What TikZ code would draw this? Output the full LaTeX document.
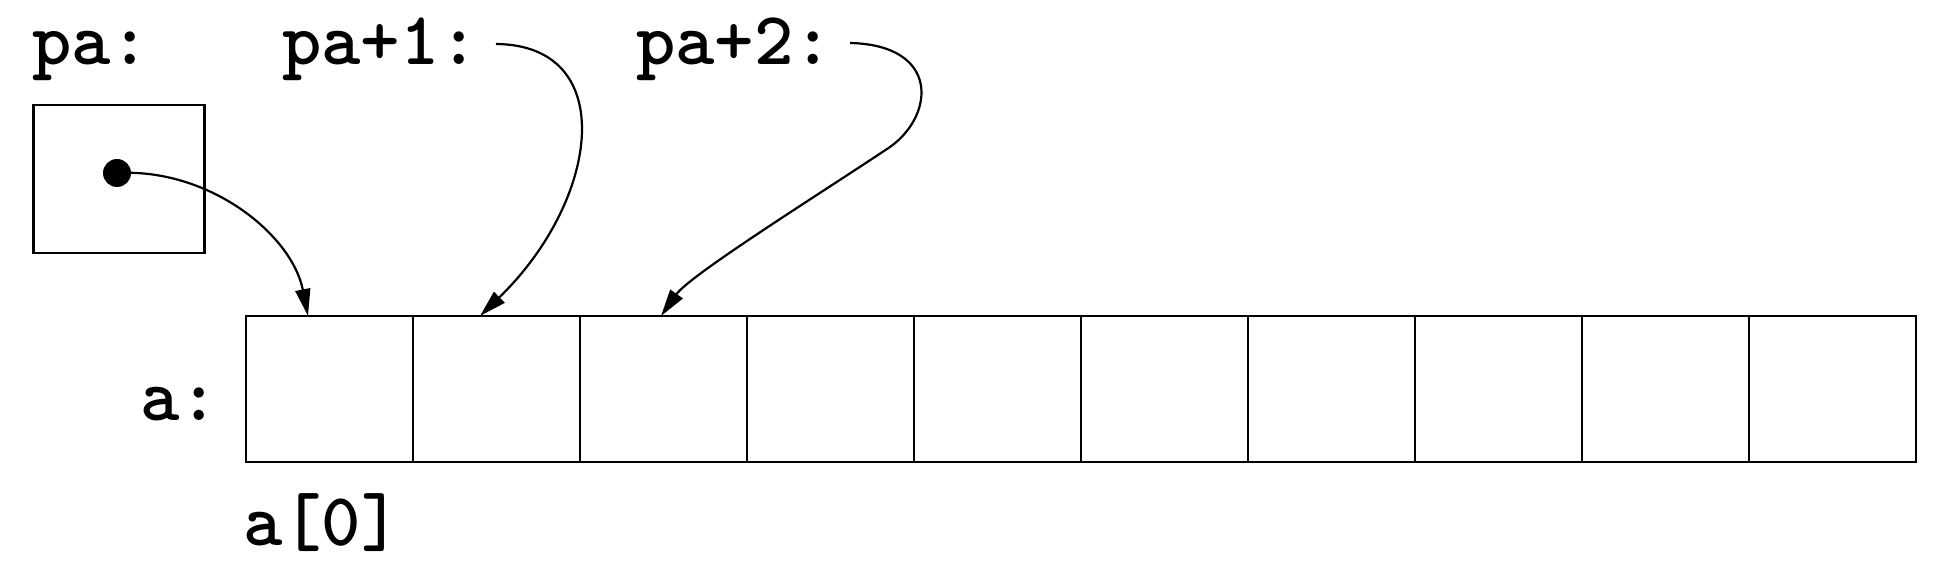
\documentclass[tikz,border=0pt]{standalone}
\usetikzlibrary{arrows.meta}
\begin{document}
\begin{tikzpicture}[x=1pt,y=-1pt,
  lbl/.style={anchor=base west,inner sep=0pt,font=\fontsize{75}{86}\selectfont\ttfamily\bfseries},
  cell/.style={draw,line width=2.5pt,minimum width=167pt,minimum height=146pt,inner sep=0pt,outer sep=0pt},
  ptrbox/.style={draw,line width=2.5pt,minimum width=171pt,minimum height=148pt,inner sep=0pt,outer sep=0pt},
  conn/.style={line width=2.2pt,-{Triangle[length=27pt,width=15pt]}},
  dotnode/.style={circle,fill=black,inner sep=0pt,minimum size=28pt}]
\useasboundingbox (0,0) rectangle (1944,578);
% labels
\node[lbl] (lpa)  at (32,65) {pa:};
\node[lbl] (lpa1) at (282,65) {pa+1:};
\node[lbl] (lpa2) at (636,64) {pa+2:};
\node[lbl] (la)   at (140,420) {a:};
\node[lbl] (la0)  at (243,545) {a[0]};
% pointer box
\node[ptrbox] (pbox) at (119,179) {};
% array
\foreach \i in {0,...,9}{
  \node[cell] (c\i) at ({246+83.5+167*\i},389) {};
}
% connector ends
\coordinate (s1) at (496,44);
\coordinate (s2) at (850,43);
\coordinate (t0) at ([xshift=62pt]c0.north west);
\coordinate (t1) at ([xshift=67pt]c1.north west);
\coordinate (t2) at ([xshift=81pt]c2.north west);
\coordinate (m2) at (890,147);
% connectors
\draw[conn] (117,173) .. controls (210,168) and (292,235) .. (t0);
\draw[conn] (s1) .. controls (620,45) and (600,200) .. (t1);
\draw[conn] (s2) .. controls (940,45) and (935,115) .. (m2)
            .. controls (818,195) and (690,275) .. (t2);
\node[dotnode] (dot) at (117,173) {};
\end{tikzpicture}
\end{document}
